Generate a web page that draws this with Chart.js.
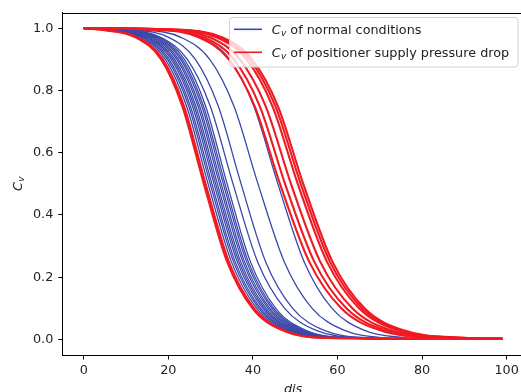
<!DOCTYPE html>
<html><head><meta charset="utf-8">
<script src="https://cdn.jsdelivr.net/npm/chart.js@4"></script>
<style>html,body{margin:0;padding:0;overflow:hidden;background:#fff;} #wrap{width:524px;height:392px;}</style>
</head><body><div id="wrap"><canvas id="c" width="524" height="392"></canvas></div>
<script>
// Cv levels at which each curve's x position was read
const cvLevels = [1.0, 0.995, 0.97, 0.9, 0.75, 0.5, 0.25, 0.1, 0.03, 0.005, 0.002];

// x positions (dis) of each normal-condition curve at the levels above
const blueCurves = [
  [0, 5.1, 13.4, 19.3, 24.3, 29.4, 34.9, 40.9, 47.9, 58.4, 78.6],
  [0, 5.6, 13.9, 19.8, 24.8, 29.9, 35.4, 41.4, 48.4, 58.9, 78.6],
  [0, 6.0, 14.3, 20.2, 25.2, 30.3, 35.8, 41.8, 48.8, 59.3, 78.6],
  [0, 6.5, 14.8, 20.7, 25.7, 30.8, 36.3, 42.3, 49.3, 59.8, 78.6],
  [0, 6.9, 15.2, 21.1, 26.1, 31.2, 36.7, 42.7, 49.7, 60.2, 78.6],
  [0, 7.3, 15.6, 21.5, 26.5, 31.6, 37.1, 43.1, 50.1, 60.6, 78.6],
  [0, 7.8, 16.1, 22.0, 27.0, 32.1, 37.6, 43.6, 50.6, 61.1, 78.6],
  [0, 8.2, 16.5, 22.4, 27.4, 32.5, 38.0, 44.0, 51.0, 61.5, 78.6],
  [0, 8.7, 17.0, 22.9, 27.9, 33.0, 38.5, 44.5, 51.5, 62.0, 78.6],
  [0, 9.1, 17.4, 23.3, 28.3, 33.4, 38.9, 44.9, 51.9, 62.4, 78.6],
  [0, 9.6, 17.9, 23.8, 28.8, 33.9, 39.4, 45.4, 52.4, 62.9, 78.6],
  [0, 9.4, 18.3, 24.5, 29.9, 35.3, 41.1, 47.5, 54.8, 65.8, 78.6],
  [0, 11.3, 20.2, 26.4, 31.8, 37.2, 43.0, 49.4, 56.7, 67.7, 78.6],
  [0, 13.7, 23.1, 29.8, 35.5, 41.2, 47.4, 54.0, 61.5, 71.2, 78.6],
  [0, 18.4, 27.8, 34.5, 40.2, 45.9, 52.1, 58.7, 66.2, 75.9, 78.6]
];

// x positions of each supply-pressure-drop curve at the levels above
const redCurves = [
  [0, 4.1, 12.4, 18.3, 23.3, 28.4, 33.9, 39.9, 46.9, 57.4, 99.0],
  [0, 4.5, 12.8, 18.7, 23.7, 28.8, 34.3, 40.3, 47.3, 57.8, 99.0],
  [0, 17.3, 27.3, 34.3, 40.4, 46.4, 53.3, 60.9, 69.9, 84.4, 99.0],
  [0, 18.5, 28.5, 35.5, 41.6, 47.6, 54.5, 62.1, 71.1, 85.6, 99.0],
  [0, 19.9, 29.9, 36.9, 43.0, 49.0, 55.9, 63.5, 72.5, 87.0, 99.0],
  [0, 21.5, 31.5, 38.5, 44.6, 50.6, 57.5, 65.1, 74.1, 88.6, 99.0],
  [0, 22.2, 32.2, 39.2, 45.3, 51.3, 58.2, 65.8, 74.8, 89.3, 99.0],
  [0, 22.8, 32.8, 39.8, 45.9, 51.9, 58.8, 66.4, 75.4, 89.9, 99.0]
];

const xTicks = [0, 20, 40, 60, 80, 100];
const yTicks = [0.0, 0.2, 0.4, 0.6, 0.8, 1.0];
const legendLabels = ['of normal conditions', 'of positioner supply pressure drop'];
const xTitle = 'dis';

const BLUE = '#3a47ab';
const RED = '#f01a22';
const FONT = '"DejaVu Sans"';
const FS = 12.8;

function toPoints(curve) { return curve.map((x, i) => ({ x: x, y: cvLevels[i] })); }

const datasets = [];
redCurves.forEach(c => datasets.push({ data: toPoints(c), borderColor: RED, borderWidth: 2.1, order: 0 }));
blueCurves.forEach(c => datasets.push({ data: toPoints(c), borderColor: BLUE, borderWidth: 1.3, order: 1 }));
datasets.forEach(d => { d.showLine = true; d.pointRadius = 0; d.fill = false; d.cubicInterpolationMode = 'monotone'; });

function drawCv(ctx, x, y, size, color) {
  ctx.fillStyle = color;
  ctx.textAlign = 'left';
  ctx.textBaseline = 'alphabetic';
  ctx.font = 'italic ' + size + 'px ' + FONT;
  ctx.fillText('C', x, y);
  const w = ctx.measureText('C').width;
  ctx.font = 'italic ' + (size * 0.7) + 'px ' + FONT;
  ctx.fillText('v', x + w + 0.3, y + size * 0.17);
  return x + w + 0.3 + ctx.measureText('v').width;
}

const decor = {
  id: 'decor',
  afterDraw(chart) {
    const ctx = chart.ctx;
    const a = chart.chartArea;
    ctx.save();
    // top spine
    ctx.strokeStyle = '#000';
    ctx.lineWidth = 1;
    ctx.beginPath();
    ctx.moveTo(a.left, Math.round(a.top) + 0.5);
    ctx.lineTo(a.right, Math.round(a.top) + 0.5);
    ctx.stroke();

    // legend box
    const bx = 229.5, by = 17.5, bw = 288.5, bh = 49.5, r = 3;
    ctx.beginPath();
    ctx.moveTo(bx + r, by);
    ctx.lineTo(bx + bw - r, by); ctx.arcTo(bx + bw, by, bx + bw, by + r, r);
    ctx.lineTo(bx + bw, by + bh - r); ctx.arcTo(bx + bw, by + bh, bx + bw - r, by + bh, r);
    ctx.lineTo(bx + r, by + bh); ctx.arcTo(bx, by + bh, bx, by + bh - r, r);
    ctx.lineTo(bx, by + r); ctx.arcTo(bx, by, bx + r, by, r);
    ctx.closePath();
    ctx.fillStyle = 'rgba(255,255,255,0.8)';
    ctx.fill();
    ctx.strokeStyle = '#d0d0d0';
    ctx.stroke();

    const rows = [{ c: BLUE, y: 29.3 }, { c: RED, y: 52.3 }];
    rows.forEach((row, i) => {
      ctx.strokeStyle = row.c;
      ctx.lineWidth = 1.6;
      ctx.beginPath();
      ctx.moveTo(234, row.y);
      ctx.lineTo(262, row.y);
      ctx.stroke();
      const ex = drawCv(ctx, 271.7, row.y + 5, FS, '#222');
      ctx.font = FS + 'px ' + FONT;
      ctx.fillText(' ' + legendLabels[i], ex, row.y + 5);
    });

    // y-axis title
    ctx.save();
    ctx.translate(21.8, (a.top + a.bottom) / 2);
    ctx.rotate(-Math.PI / 2);
    ctx.font = 'italic ' + FS + 'px ' + FONT;
    const cw = ctx.measureText('C').width;
    ctx.font = 'italic ' + (FS * 0.7) + 'px ' + FONT;
    const vw = ctx.measureText('v').width;
    drawCv(ctx, -(cw + vw + 0.3) / 2, 0, FS, '#222');
    ctx.restore();

    // x-axis title
    ctx.font = 'italic ' + FS + 'px ' + FONT;
    ctx.textAlign = 'center';
    ctx.fillStyle = '#222';
    ctx.fillText(xTitle, (a.left + a.right) / 2, 393);
    ctx.restore();
  }
};

new Chart(document.getElementById('c'), {
  type: 'scatter',
  data: { datasets: datasets },
  options: {
    responsive: false,
    animation: false,
    devicePixelRatio: 1,
    layout: { padding: { top: 10.3, right: 0.6, left: 0, bottom: 0 } },
    plugins: { legend: { display: false }, tooltip: { enabled: false } },
    scales: {
      x: {
        type: 'linear', min: -4.95, max: 103.95,
        afterBuildTicks: s => { s.ticks = xTicks.map(v => ({ value: v })); },
        afterFit: s => { s.height = 37; },
        ticks: { color: '#222', font: { family: 'DejaVu Sans', size: FS }, padding: 3, autoSkip: false, maxRotation: 0, callback: v => String(v) },
        grid: { display: true, drawOnChartArea: false, drawTicks: true, tickLength: 4.5, tickColor: '#000', tickWidth: 1 },
        border: { display: true, color: '#000', width: 1 }
      },
      y: {
        type: 'linear', min: -0.05, max: 1.05,
        afterBuildTicks: s => { s.ticks = yTicks.map(v => ({ value: v })); },
        afterFit: s => { s.width = 62.8; },
        ticks: { color: '#222', font: { family: 'DejaVu Sans', size: FS }, padding: 5, autoSkip: false, callback: v => Number(v).toFixed(1) },
        grid: { display: true, drawOnChartArea: false, drawTicks: true, tickLength: 4.5, tickColor: '#000', tickWidth: 1 },
        border: { display: true, color: '#000', width: 1 }
      }
    }
  },
  plugins: [decor]
});
</script>
</body></html>
